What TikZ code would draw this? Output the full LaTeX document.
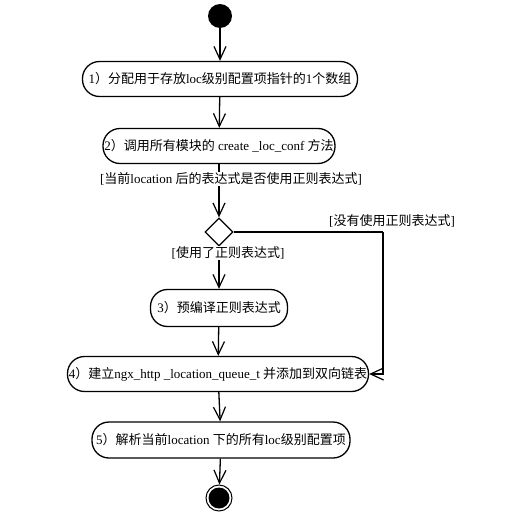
\documentclass[tikz,border=0pt]{standalone}
\usepackage{fontspec}
\setmainfont{Liberation Serif}
\newfontfamily\cjk{Noto Sans CJK SC}
\usetikzlibrary{shapes.geometric,arrows.meta}
\newcommand\C[1]{{\cjk #1}}
\begin{document}
\begin{tikzpicture}[x=1pt,y=-1pt,
  every node/.style={font=\fontsize{13}{15}\selectfont},
  act/.style={draw, line width=1.3pt, rounded corners=17pt, minimum height=35pt, inner sep=0pt, fill=white},
  flow/.style={line width=1.3pt, -{Straight Barb[length=13pt,width=12pt,line width=1.2pt]}},
  guard/.style={fill=white, inner sep=1pt}]
\useasboundingbox (0,0) rectangle (515,522);
% start / end
\node[circle, fill=black, minimum size=24pt, inner sep=0pt] (start) at (220,16) {};
\node[circle, draw, line width=1pt, minimum size=26pt, inner sep=0pt] (endo) at (219,498) {};
\node[circle, fill=black, minimum size=21pt, inner sep=0pt] (endi) at (219,498) {};
% activities
\node[act, minimum width=275pt] (b1) at (220,79) {1\C{）分配用于存放}loc\C{级别配置项指针的}1\C{个数组}};
\node[act, minimum width=232pt] (b2) at (219,146) {2\C{）调用所有模块的} create \_loc\_conf \C{方法}};
\node[draw, diamond, line width=1.3pt, minimum width=28pt, minimum height=28pt, inner sep=0pt, fill=white] (d) at (219,232) {};
\node[act, minimum width=137pt, minimum height=37pt] (b3) at (219,308) {3\C{）预编译正则表达式}};
\node[act, minimum width=301pt] (b4) at (218,374) {4\C{）建立}ngx\_http \_location\_queue\_t \C{并添加到双向链表}};
\node[act, minimum width=258pt, minimum height=36pt] (b5) at (221,440) {5\C{）解析当前}location \C{下的所有}loc\C{级别配置项}};
\coordinate (rc) at (383,232);
% connectors
\draw[flow] (start) -- (b1);
\draw[flow] (b1) -- (b2);
\draw[flow] (b2) -- (d);
\draw[flow] (d) -- (b3);
\draw[line width=1.3pt] (d.east) -- (rc);
\draw[flow] (rc) |- (b4.east);
\draw[flow] (b3) -- (b4);
\draw[flow] (b4) -- (b5);
\draw[flow] (b5) -- (endo);
% guards
\node[guard] (g1) at (231,179) {[\C{当前}location \C{后的表达式是否使用正则表达式}]};
\node[guard] (g2) at (392,221) {[\C{没有使用正则表达式}]};
\node[guard] (g3) at (228,253) {[\C{使用了正则表达式}]};
\end{tikzpicture}
\end{document}
